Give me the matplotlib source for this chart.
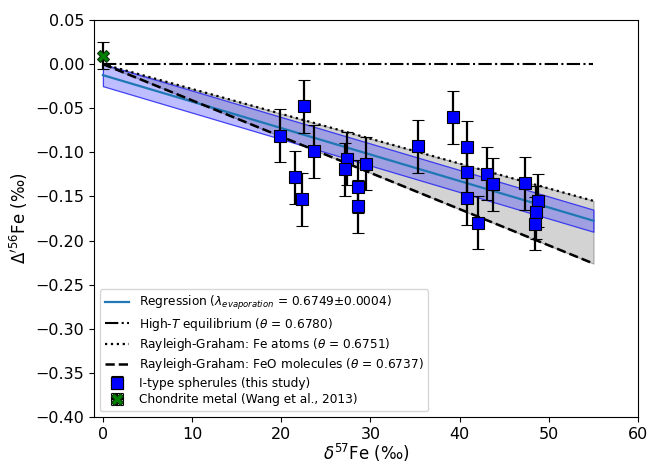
import numpy as np
import matplotlib
matplotlib.use("Agg")
import matplotlib.pyplot as plt

# I-type spherules (this study)
sph_x = [19.9, 22.5, 21.5, 22.3, 23.7, 27.4, 27.2, 28.6, 28.65, 29.55,
         35.3, 39.25, 40.86, 40.86, 40.86, 42.05, 43.06, 43.7, 47.3,
         48.75, 48.6, 48.45]
sph_y = [-0.081, -0.048, -0.128, -0.153, -0.099, -0.107, -0.119, -0.139, -0.161, -0.113,
         -0.093, -0.060, -0.094, -0.122, -0.152, -0.180, -0.124, -0.136, -0.135,
         -0.155, -0.168, -0.181]
sph_yerr = [0.03] * len(sph_x)
sph_xerr = [0.05] * len(sph_x)

# Chondrite metal (Wang et al., 2013)
chon_x = [0.0]
chon_y = [0.0095]
chon_yerr = [0.015]
chon_xerr = [0.05]

# Model lines (x range and end values)
line_x = [0, 55]
regression_y = [-0.0125, -0.1775]
regression_band = 0.0125
equilibrium_y = [0.0, 0.0]
fe_atoms_y = [0.0, -0.155]
feo_y = [0.0, -0.226]

labels = [
    r'Regression ($\lambda_{evaporation}$ = 0.6749$\pm$0.0004)',
    r'High-$T$ equilibrium ($\theta$ = 0.6780)',
    r'Rayleigh-Graham: Fe atoms ($\theta$ = 0.6751)',
    r'Rayleigh-Graham: FeO molecules ($\theta$ = 0.6737)',
    'I-type spherules (this study)',
    'Chondrite metal (Wang et al., 2013)',
]

fig = plt.figure(figsize=(6.5, 4.65), dpi=100)
ax = fig.add_axes([0.1446, 0.1032, 0.8369, 0.8538])

lx = np.array(line_x, dtype=float)
ax.fill_between(lx, fe_atoms_y, feo_y, facecolor='#d3d3d3', edgecolor='#a0a0a0',
                linewidth=0.8, zorder=1)
ry = np.array(regression_y)
ax.fill_between(lx, ry + regression_band, ry - regression_band,
                facecolor=(0.2, 0.2, 1.0, 0.32), edgecolor=(0.15, 0.15, 0.95, 0.85),
                linewidth=0.9, zorder=2)
ax.plot(lx, ry, color='tab:blue', lw=1.6, label=labels[0], zorder=3)
ax.plot(lx, equilibrium_y, color='black', ls='-.', lw=1.5, label=labels[1], zorder=3)
ax.plot(lx, fe_atoms_y, color='black', ls=':', lw=1.6, label=labels[2], zorder=3)
ax.plot(lx, feo_y, color='black', ls='--', lw=1.8, label=labels[3], zorder=3)

ax.errorbar(sph_x, sph_y, yerr=sph_yerr, xerr=sph_xerr, fmt='s', color='blue',
            markersize=8, markeredgecolor='black', markeredgewidth=0.8,
            ecolor='black', elinewidth=1.6, capsize=4, capthick=1.3,
            label=labels[4], zorder=5)
ax.errorbar(chon_x, chon_y, yerr=chon_yerr, xerr=chon_xerr, fmt='X', color='green',
            markersize=8, markeredgecolor='#103010', markeredgewidth=0.8,
            ecolor='black', elinewidth=1.6, capsize=4, capthick=1.3,
            label=labels[5], zorder=5)

ax.set_xlim(-1, 60)
ax.set_ylim(-0.40, 0.05)
ax.set_xticks([0, 10, 20, 30, 40, 50, 60])
ax.set_yticks(np.round(np.arange(-0.40, 0.051, 0.05), 2))
ax.tick_params(labelsize=11.5)
ax.set_xlabel(r'$\delta^{57}$Fe (‰)', fontsize=12, labelpad=0)
ax.set_ylabel(r"$\Delta'^{56}$Fe (‰)", fontsize=12)

ax.legend(loc='lower left', fontsize=8.7, labelspacing=0.28)

fig.savefig('out.png', dpi=100)
